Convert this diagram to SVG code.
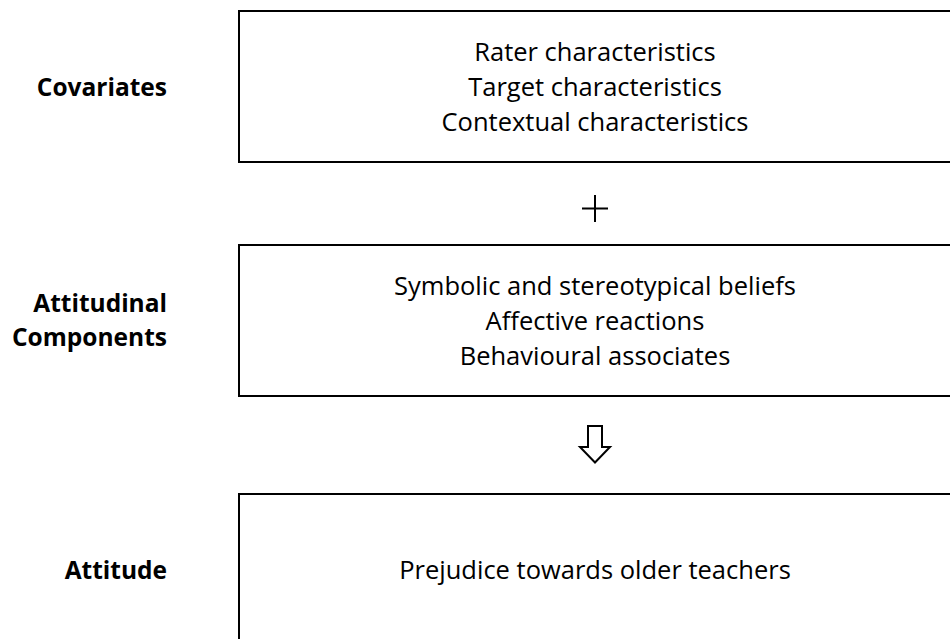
<svg xmlns="http://www.w3.org/2000/svg" width="950" height="639" viewBox="0 0 950 639">
  <style>
    .box { fill: #ffffff; stroke: #000000; stroke-width: 2; }
    .item { font-family: "Open Sans", "Noto Sans", "Liberation Sans", sans-serif; font-size: 25.5px; fill: #000000; text-anchor: middle; }
    .label { font-family: "Open Sans", "Noto Sans", "Liberation Sans", sans-serif; font-size: 24.5px; font-weight: bold; fill: #000000; text-anchor: end; }
    .sym { fill: #ffffff; stroke: #000000; stroke-width: 2; stroke-linejoin: miter; }
  </style>
  <rect width="950" height="639" fill="#ffffff"/>

  <!-- Row labels -->
  <g id="label-covariates">
    <text class="label" x="167" y="96">Covariates</text>
  </g>
  <g id="label-attitudinal">
    <text class="label" x="167" y="312">Attitudinal</text>
    <text class="label" x="167" y="346">Components</text>
  </g>
  <g id="label-attitude">
    <text class="label" x="167" y="579">Attitude</text>
  </g>

  <!-- Covariates box -->
  <g id="covariates">
    <rect class="box" x="239" y="11" width="712" height="151"/>
    <text class="item" x="595" y="60.5">Rater characteristics</text>
    <text class="item" x="595" y="95.5">Target characteristics</text>
    <text class="item" x="595" y="130.5">Contextual characteristics</text>
  </g>

  <!-- Attitudinal components box -->
  <g id="components">
    <rect class="box" x="239" y="245" width="712" height="151"/>
    <text class="item" x="595" y="294.5">Symbolic and stereotypical beliefs</text>
    <text class="item" x="595" y="329.5">Affective reactions</text>
    <text class="item" x="595" y="364.5">Behavioural associates</text>
  </g>

  <!-- Attitude box (runs past the lower edge) -->
  <g id="attitude">
    <rect class="box" x="239" y="494" width="712" height="170"/>
    <text class="item" x="595" y="579">Prejudice towards older teachers</text>
  </g>

  <!-- Connectors: plus between the first two boxes, hollow arrow into the last -->
  <g id="connectors">
    <path class="sym" fill="none" d="M582 208.5 H608 M595 195 V222"/>
    <path class="sym" d="M588 426 H602 V447 H610 L595 462.5 L580 447 H588 Z"/>
  </g>
</svg>
